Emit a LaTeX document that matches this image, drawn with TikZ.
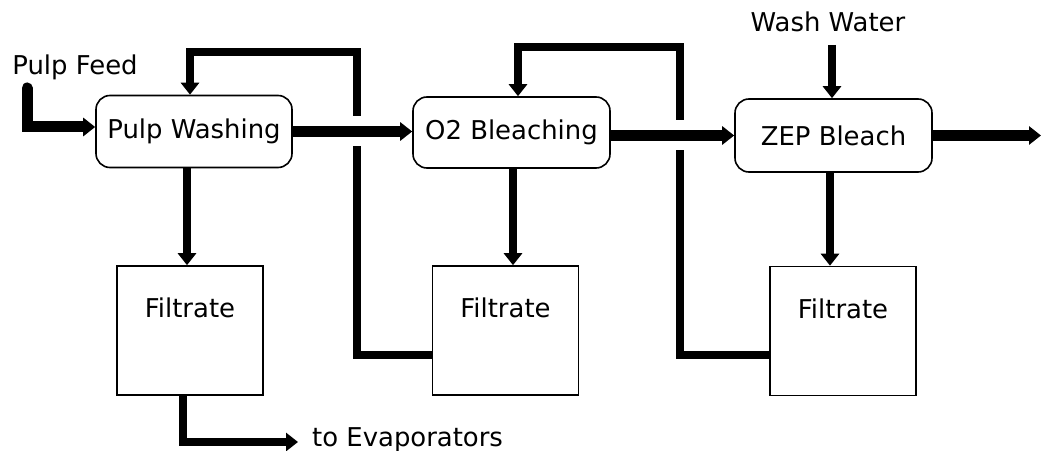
\documentclass[tikz,border=0pt]{standalone}
\usepackage{fontspec}
\setmainfont{DejaVu Sans}
\usetikzlibrary{arrows.meta,backgrounds}

\begin{document}
\begin{tikzpicture}[x=1bp,y=-1bp,line join=miter,
  every node/.style={font=\fontsize{26}{31}\selectfont},
  proc/.style={draw,line width=1.6bp,rounded corners=14bp,fill=white,
    minimum width=196bp,minimum height=72bp,inner sep=0},
  tank/.style={draw,line width=1.6bp,fill=white,
    minimum width=146bp,minimum height=129bp,inner sep=0},
  tank label/.style={label={[anchor=center,yshift=-43bp]north:#1}},
  tip/.style={-{Triangle[width=18bp,length=12bp]}},
  mainflow/.style={line width=11bp,tip},
  sideflow/.style={line width=7.5bp,tip},
  bridge/.style={preaction={draw=white,line width=30bp,-}},
]
\useasboundingbox (0,0) rectangle (1043,451);

% process units
\node[proc] (pw) at (194,131.5) {Pulp Washing};
\node[proc,minimum width=197bp,minimum height=71bp] (ob) at (511.5,132.5) {O2 Bleaching};
\node[proc,minimum width=197bp,minimum height=73bp] (zep) at (833.5,135.5) {ZEP Bleach};

% filtrate tanks
\node[tank,tank label=Filtrate] (f1) at (190,330.5) {};
\node[tank,tank label=Filtrate] (f2) at (505.5,330.5) {};
\node[tank,tank label=Filtrate] (f3) at (843,331) {};

% stream labels
\node (feed) at (75,67) {Pulp Feed};
\node (wash) at (828,22) {Wash Water};
\node[anchor=west,inner sep=0] (evap) at (312,440) {to Evaporators};

% free ends and bends
\coordinate (feedtop) at (27,88);
\coordinate (washtop) at (832,45);
\coordinate (exit) at (1041,135.5);
\coordinate (evapend) at (298,442);
\coordinate (loopA) at (357,52);
\coordinate (loopB) at (680,47);

\begin{scope}[on background layer]
  % filtrate recycle loops
  \draw[sideflow] (f2.west |- 0,355) -| (loopA) -| ([xshift=-4bp]pw.north);
  \draw[sideflow] (f3.west |- 0,355) -| (loopB) -| ([xshift=6.5bp]ob.north);

  % main pulp line
  \draw[mainflow,line cap=round] (feedtop) |- ([yshift=4.5bp]pw.west);
  \draw[mainflow,bridge] (pw.east) -- (pw.east -| ob.west);
  \draw[mainflow,bridge] (ob.east |- zep.west) -- (zep.west);
  \draw[mainflow] (zep.east) -- (exit);

  % filtrate drains and wash water
  \draw[sideflow] (pw.south -| 187,0) -- (f1.north -| 187,0);
  \draw[sideflow] (ob.south -| 513,0) -- (f2.north -| 513,0);
  \draw[sideflow] (zep.south -| 830,0) -- (f3.north -| 830,0);
  \draw[sideflow] (washtop) -- (washtop |- zep.north);
  \draw[sideflow] (f1.south -| 183,0) |- (evapend);
\end{scope}
\end{tikzpicture}
\end{document}
